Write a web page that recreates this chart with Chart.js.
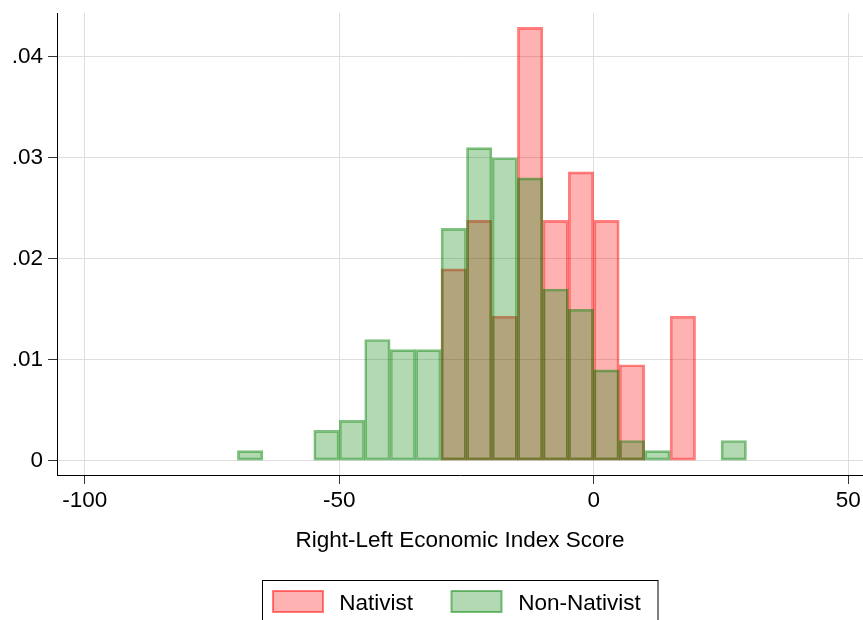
<!DOCTYPE html>
<html><head><meta charset="utf-8">
<script src="https://cdn.jsdelivr.net/npm/chart.js@4.4.1/dist/chart.umd.min.js"></script>
<style>html,body{margin:0;padding:0;background:#fff}canvas{display:block}</style>
</head><body><canvas id="c" width="863" height="620"></canvas>
<script>
const binWidth = 5;
const nativistBins = [-30, -25, -20, -15, -10, -5, 0, 5, 15];
const nativistDensity = [0.0190, 0.0238, 0.0143, 0.0429, 0.0238, 0.0286, 0.0238, 0.0095, 0.0143];
const nonNativistBins = [-70, -55, -50, -45, -40, -35, -30, -25, -20, -15, -10, -5, 0, 5, 10, 25];
const nonNativistDensity = [0.001, 0.003, 0.004, 0.012, 0.011, 0.011, 0.023, 0.031, 0.030, 0.028, 0.017, 0.015, 0.009, 0.002, 0.001, 0.002];
const xTickValues = [-100, -50, 0, 50];
const yTickValues = [0, 0.01, 0.02, 0.03, 0.04];
const seriesLabels = ['Nativist', 'Non-Nativist'];
const xAxisTitle = 'Right-Left Economic Index Score';

const FONT = "'Liberation Sans', Arial, Helvetica, sans-serif";
const FS = 22.5;
Chart.defaults.font.family = FONT;
Chart.defaults.font.size = FS;
Chart.defaults.color = '#000';

const toPoints = (bins, vals) => bins.map((b, i) => ({ x: b + binWidth / 2, y: vals[i] }));

const legendPlugin = {
  id: 'boxLegend',
  afterDraw(chart) {
    const ctx = chart.ctx;
    const ds = chart.data.datasets;
    ctx.save();
    ctx.strokeStyle = '#000';
    ctx.lineWidth = 1;
    ctx.strokeRect(262.5, 580.5, 395.5, 60);
    const items = [{ sx: 273, tx: 339.3 }, { sx: 451.5, tx: 518.3 }];
    items.forEach((it, i) => {
      ctx.fillStyle = ds[i].backgroundColor;
      ctx.fillRect(it.sx, 591, 50, 21);
      ctx.strokeStyle = ds[i].borderColor;
      ctx.lineWidth = 2;
      ctx.strokeRect(it.sx, 591, 50, 21);
      ctx.fillStyle = '#000';
      ctx.font = FS + 'px ' + FONT;
      ctx.textBaseline = 'alphabetic';
      ctx.textAlign = 'left';
      ctx.fillText(ds[i].label, it.tx, 609.5);
    });
    ctx.restore();
  }
};

new Chart(document.getElementById('c'), {
  type: 'bar',
  data: {
    datasets: [
      {
        label: seriesLabels[0],
        data: toPoints(nativistBins, nativistDensity),
        backgroundColor: 'rgba(255,0,0,0.3)',
        borderColor: 'rgba(255,0,0,0.5)',
        borderWidth: 2,
        borderSkipped: false,
        grouped: false,
        barPercentage: 1,
        categoryPercentage: 1,
        order: 2
      },
      {
        label: seriesLabels[1],
        data: toPoints(nonNativistBins, nonNativistDensity),
        backgroundColor: 'rgba(0,128,0,0.3)',
        borderColor: 'rgba(0,128,0,0.5)',
        borderWidth: 2,
        borderSkipped: false,
        grouped: false,
        barPercentage: 1,
        categoryPercentage: 1,
        order: 1
      }
    ]
  },
  options: {
    responsive: false,
    animation: false,
    layout: { padding: { top: 13, left: 0, right: 0, bottom: 0 } },
    plugins: { legend: { display: false }, tooltip: { enabled: false } },
    scales: {
      x: {
        type: 'linear',
        min: -105.44,
        max: 52.89,
        offset: false,
        grid: { offset: false, color: '#dedede', lineWidth: 1, tickColor: '#333', tickLength: 9 },
        border: { display: true, color: '#000', width: 1 },
        ticks: { color: '#000', padding: 3, maxRotation: 0, autoSkip: false },
        afterBuildTicks: s => { s.ticks = xTickValues.map(v => ({ value: v })); },
        afterFit: s => { s.height = 145; s.paddingLeft = 0; s.paddingRight = 0; },
        title: { display: true, text: xAxisTitle, color: '#000', padding: { top: 0, bottom: 66 } }
      },
      y: {
        type: 'linear',
        min: -0.001416,
        max: 0.04433,
        grid: { color: '#dedede', lineWidth: 1, tickColor: '#333', tickLength: 9 },
        border: { display: true, color: '#000', width: 1 },
        ticks: {
          color: '#000', padding: 5,
          callback: v => v === 0 ? '0' : v.toFixed(2).replace(/^0/, '')
        },
        afterBuildTicks: s => { s.ticks = yTickValues.map(v => ({ value: v })); },
        afterFit: s => { s.width = 57; s.paddingTop = 0; s.paddingBottom = 0; }
      }
    }
  },
  plugins: [legendPlugin]
});
</script>
</body></html>
